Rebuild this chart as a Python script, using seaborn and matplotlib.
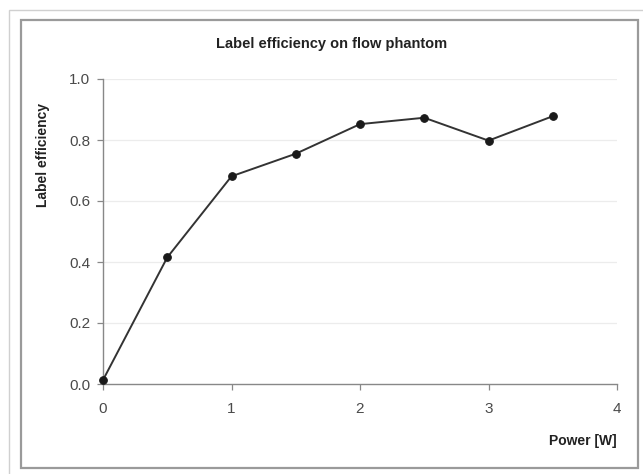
import matplotlib
matplotlib.use("Agg")
import matplotlib.pyplot as plt
import matplotlib.patches as patches
import pandas as pd
import seaborn as sns

# data
power_w = [0, 0.5, 1, 1.5, 2, 2.5, 3, 3.5]
label_eff = [0.013, 0.415, 0.681, 0.755, 0.852, 0.873, 0.798, 0.878]
x_ticks = [0, 1, 2, 3, 4]
y_ticks = [0.0, 0.2, 0.4, 0.6, 0.8, 1.0]

df = pd.DataFrame({"power": power_w, "eff": label_eff})

sns.set_theme(style="white")
plt.rcParams["font.family"] = ["Liberation Sans", "DejaVu Sans"]

W, H = 643, 474
fig = plt.figure(figsize=(W / 100, H / 100), dpi=100)
fig.patch.set_facecolor("white")

# chart area frames (Excel style)
fig.patches.append(patches.Rectangle((9 / W, 1 - 490 / H), 700 / W, 480 / H,
                                     transform=fig.transFigure, fill=False,
                                     edgecolor="#d0d0d0", linewidth=1.0))
fig.patches.append(patches.Rectangle((21 / W, 1 - 468 / H), (638 - 21) / W, (468 - 20) / H,
                                     transform=fig.transFigure, fill=False,
                                     edgecolor="#9a9a9a", linewidth=1.6))

ax = fig.add_axes([103 / W, 1 - 384 / H, (617 - 103) / W, (384 - 79) / H])
ax.set_facecolor("white")

for y in y_ticks[1:]:
    ax.axhline(y, color="#ececec", linewidth=0.9, zorder=0)

sns.lineplot(data=df, x="power", y="eff", ax=ax, color="#333333", linewidth=1.4,
             marker="o", markersize=5.5, markerfacecolor="#1a1a1a",
             markeredgecolor="#1a1a1a", clip_on=False, zorder=3)

ax.set_xlim(0, 4)
ax.set_ylim(0, 1)
ax.set_xticks(x_ticks)
ax.set_xticklabels([str(t) for t in x_ticks])
ax.set_yticks(y_ticks)
ax.set_yticklabels([f"{t:.1f}" for t in y_ticks])
ax.tick_params(axis="both", which="both", direction="out", length=4, width=0.9,
               color="#888888", labelcolor="#4a4a4a", labelsize=11, pad=5,
               bottom=True, left=True)
ax.tick_params(axis="x", pad=9)

for side in ["top", "right"]:
    ax.spines[side].set_visible(False)
for side in ["left", "bottom"]:
    ax.spines[side].set_color("#888888")
    ax.spines[side].set_linewidth(1.0)

ax.set_xlabel("")
ax.set_ylabel("")

fig.text(332 / W, 1 - 44 / H, "Label efficiency on flow phantom", ha="center", va="center",
         fontsize=10.5, fontweight="bold", color="#222222")
fig.text(43 / W, 1 - 155 / H, "Label efficiency", ha="center", va="center", rotation=90,
         fontsize=10, fontweight="bold", color="#222222")
fig.text(617 / W, 1 - 441 / H, "Power [W]", ha="right", va="center",
         fontsize=10, fontweight="bold", color="#222222")

fig.savefig("out.png", dpi=100)
